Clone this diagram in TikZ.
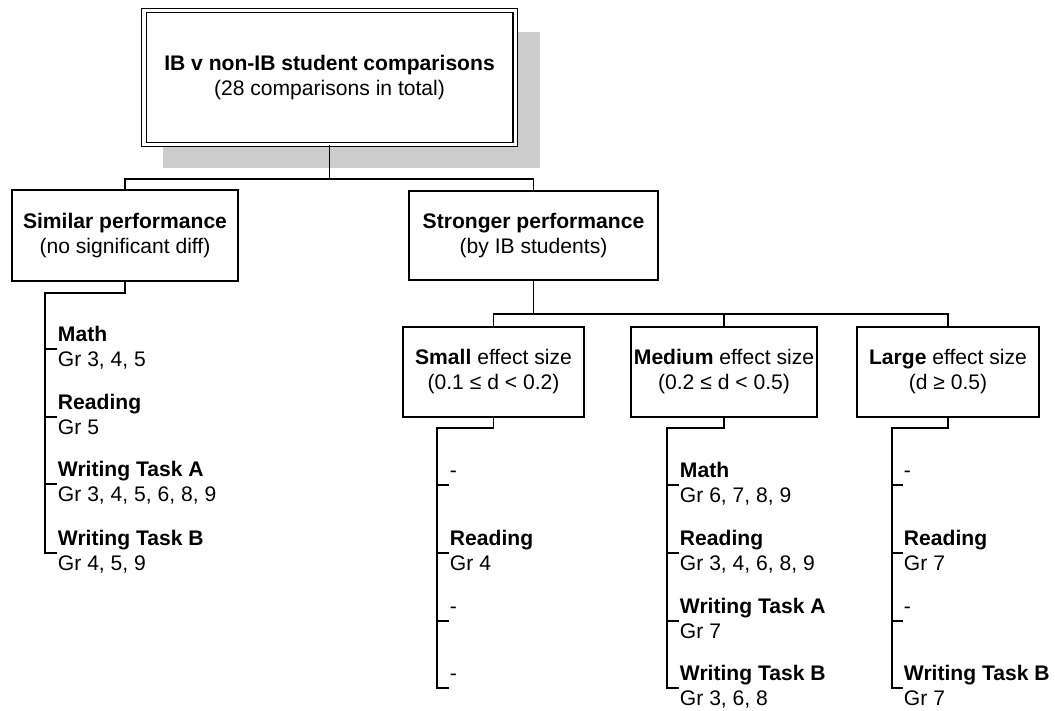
\documentclass[tikz,border=0pt]{standalone}
\usepackage{fontspec}
\setmainfont{Liberation Sans}
\usetikzlibrary{positioning}

\tikzset{
  box/.style={draw, line width=0.8pt, fill=white, align=center, inner sep=0pt},
  conn/.style={line width=1.4pt},
  item/.style={anchor=west, align=left, inner sep=0.5pt}
}

\begin{document}
\begin{tikzpicture}[x=0.025cm, y=-0.025cm, every node/.style={font=\fontsize{15}{17.8}\selectfont}]
            \useasboundingbox (0,0) rectangle (1055,711);
            % shadow and top box
            \fill[black!20] (163,32) rectangle (540,168);
            \node[box, double, double distance=2.2pt, minimum width=9.275cm, minimum height=3.35cm] (top) at (329.5,77.5) {\textbf{IB v non-IB student comparisons}\\(28 comparisons in total)};

            \node[box, minimum width=5.65cm, minimum height=2.275cm] (sim) at (125,235.5) {\textbf{Similar performance}\\(no significant diff)};
            \node[box, minimum width=6.225cm, minimum height=2.225cm] (str) at (533.5,235.5) {\textbf{Stronger performance}\\(by IB students)};

            \node[box, minimum width=4.525cm, minimum height=2.25cm] (small) at (493.5,372) {\textbf{Small} effect size\\(0.1 ≤ d < 0.2)};
            \node[box, minimum width=4.65cm, minimum height=2.25cm] (med) at (724,372) {\textbf{Medium} effect size\\(0.2 ≤ d < 0.5)};
            \node[box, minimum width=4.55cm, minimum height=2.25cm] (large) at (948,372) {\textbf{Large} effect size\\(d ≥ 0.5)};

            % tree connectors
            \coordinate (bar1) at (329.5,179);
            \coordinate (bar2) at (533.5,314);
            \draw[conn] (top.south) -- (bar1);
            \draw[line width=1.1pt] (sim.north) |- (bar1) -| (str.north);
            \draw[conn] (str.south) -- (bar2);
            \draw[line width=1.1pt] (small.north) |- (bar2) -| (large.north);
            \draw[line width=1.1pt] (med.north) -- (med.north |- bar2);

            % similar performance list
            \node[item] (s1) at (57,349) {\textbf{Math}\strut\\Gr 3, 4, 5\strut};
            \node[item] (s2) at (57,417) {\textbf{Reading}\strut\\Gr 5\strut};
            \node[item] (s3) at (57,484) {\textbf{Writing Task A}\strut\\Gr 3, 4, 5, 6, 8, 9\strut};
            \node[item] (s4) at (57,553) {\textbf{Writing Task B}\strut\\Gr 4, 5, 9\strut};
            \coordinate (simtop) at (45,293);
            \draw[conn] (sim.south) |- (simtop) -- (simtop |- s4.west) -- (s4.west);
            \foreach \i in {1,2,3} \draw[conn] (s\i.west -| simtop) -- (s\i.west);

            % small effect list
            \node[item] (a1) at (449,485) {-\strut\\\strut};
            \node[item] (a2) at (449,553) {\textbf{Reading}\strut\\Gr 4\strut};
            \node[item] (a3) at (449,621) {-\strut\\\strut};
            \node[item] (a4) at (449,688) {-\strut\\\strut};
            \coordinate (smalltop) at (437,428);
            \draw[conn] (small.south) |- (smalltop) -- (smalltop |- a4.west) -- (a4.west);
            \foreach \i in {1,2,3} \draw[conn] (a\i.west -| smalltop) -- (a\i.west);

            % medium effect list
            \node[item] (b1) at (679,485) {\textbf{Math}\strut\\Gr 6, 7, 8, 9\strut};
            \node[item] (b2) at (679,553) {\textbf{Reading}\strut\\Gr 3, 4, 6, 8, 9\strut};
            \node[item] (b3) at (679,621) {\textbf{Writing Task A}\strut\\Gr 7\strut};
            \node[item] (b4) at (679,688) {\textbf{Writing Task B}\strut\\Gr 3, 6, 8\strut};
            \coordinate (medtop) at (667,428);
            \draw[conn] (med.south) |- (medtop) -- (medtop |- b4.west) -- (b4.west);
            \foreach \i in {1,2,3} \draw[conn] (b\i.west -| medtop) -- (b\i.west);

            % large effect list
            \node[item] (c1) at (903,485) {-\strut\\\strut};
            \node[item] (c2) at (903,553) {\textbf{Reading}\strut\\Gr 7\strut};
            \node[item] (c3) at (903,621) {-\strut\\\strut};
            \node[item] (c4) at (903,688) {\textbf{Writing Task B}\strut\\Gr 7\strut};
            \coordinate (largetop) at (892,428);
            \draw[conn] (large.south) |- (largetop) -- (largetop |- c4.west) -- (c4.west);
            \foreach \i in {1,2,3} \draw[conn] (c\i.west -| largetop) -- (c\i.west);
        \end{tikzpicture}
\end{document}
